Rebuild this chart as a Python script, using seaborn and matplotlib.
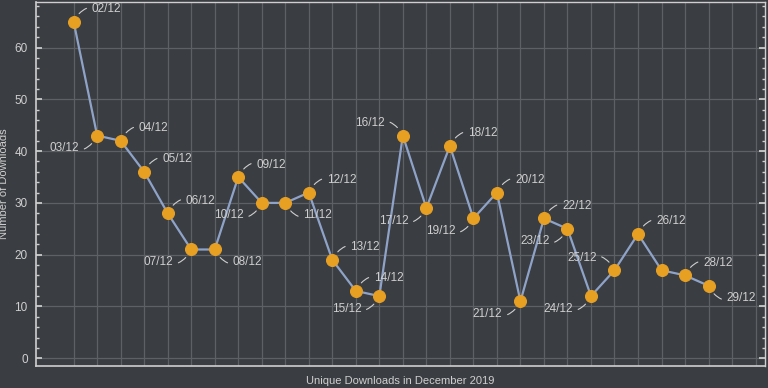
import matplotlib
matplotlib.use("Agg")
import matplotlib.pyplot as plt
from matplotlib.ticker import MultipleLocator
import seaborn as sns
import pandas as pd

days = list(range(2, 30))
downloads = [65, 43, 42, 36, 28, 21, 21, 35, 30, 30, 32, 19, 13, 12,
             43, 29, 41, 27, 32, 11, 27, 25, 12, 17, 24, 17, 16, 14]
# label placement per day: ur = up-right, ul = up-left, dl = down-left, dr = down-right, '' = none
label_pos = ['ur', 'dl', 'ur', 'ur', 'ur', 'dl', 'dr', 'ur', 'dl', 'dr', 'ur', 'ur', 'ur', 'dl',
             'ul', 'dl', 'ur', 'dl', 'ur', 'dl', 'ur', 'dl', 'dl', 'ul', 'ur', '', 'ur', 'dr']

BG = '#3a3d41'
FG = '#cfcfcf'
GRID = '#5d6064'

sns.set_theme(style="dark")
plt.rcParams['font.family'] = ['Liberation Sans', 'DejaVu Sans']

df = pd.DataFrame({'day': days, 'downloads': downloads})

fig = plt.figure(figsize=(7.68, 3.88), dpi=100, facecolor=BG)
ax = fig.add_axes([36 / 768, 22 / 388, 729 / 768, 364 / 388])
ax.set_facecolor(BG)

sns.lineplot(data=df, x='day', y='downloads', ax=ax, color='#8fa3c8', lw=1.6,
             marker='o', markersize=8.6, markerfacecolor='#e8a023',
             markeredgecolor='#e8a023', zorder=3)

ax.set_xlim(0.4, 31.4)
ax.set_ylim(-1.5, 68.8)
ax.set_xticks(range(2, 32))
ax.set_xticklabels([])
ax.yaxis.set_major_locator(MultipleLocator(10))
ax.yaxis.set_minor_locator(MultipleLocator(2))
ax.grid(True, which='major', color=GRID, lw=0.9)
ax.tick_params(axis='x', length=0)
ax.tick_params(axis='y', which='major', direction='in', length=4, color=FG,
               labelcolor=FG, labelsize=8.5, right=True, left=True, pad=6)
ax.tick_params(axis='y', which='minor', direction='in', length=2, color=FG,
               right=True, left=True)
for s in ax.spines.values():
    s.set_color(FG)
    s.set_linewidth(1.0)
ax.spines['left'].set_linewidth(1.2)
ax.spines['bottom'].set_linewidth(1.2)

ax.set_xlabel('Unique Downloads in December 2019', color=FG, fontsize=8, labelpad=4)
ax.set_ylabel('Number of Downloads', color=FG, fontsize=8, labelpad=4)

offsets = {'ur': (13, 9, 'left', 0.45), 'ul': (-13, 9, 'right', -0.45),
           'dl': (-13, -9, 'right', 0.45), 'dr': (13, -9, 'left', -0.45)}
for d, v, p in zip(days, downloads, label_pos):
    if not p:
        continue
    dx, dy, ha, rad = offsets[p]
    ax.annotate(f'{d:02d}/12', xy=(d, v), xytext=(dx, dy), textcoords='offset points',
                ha=ha, va='center', fontsize=8.5, color=FG,
                arrowprops=dict(arrowstyle='-', color=FG, lw=0.8, shrinkA=1.5, shrinkB=7,
                                connectionstyle=f'arc3,rad={rad}'))

fig.savefig('out.png', dpi=100, facecolor=BG)
